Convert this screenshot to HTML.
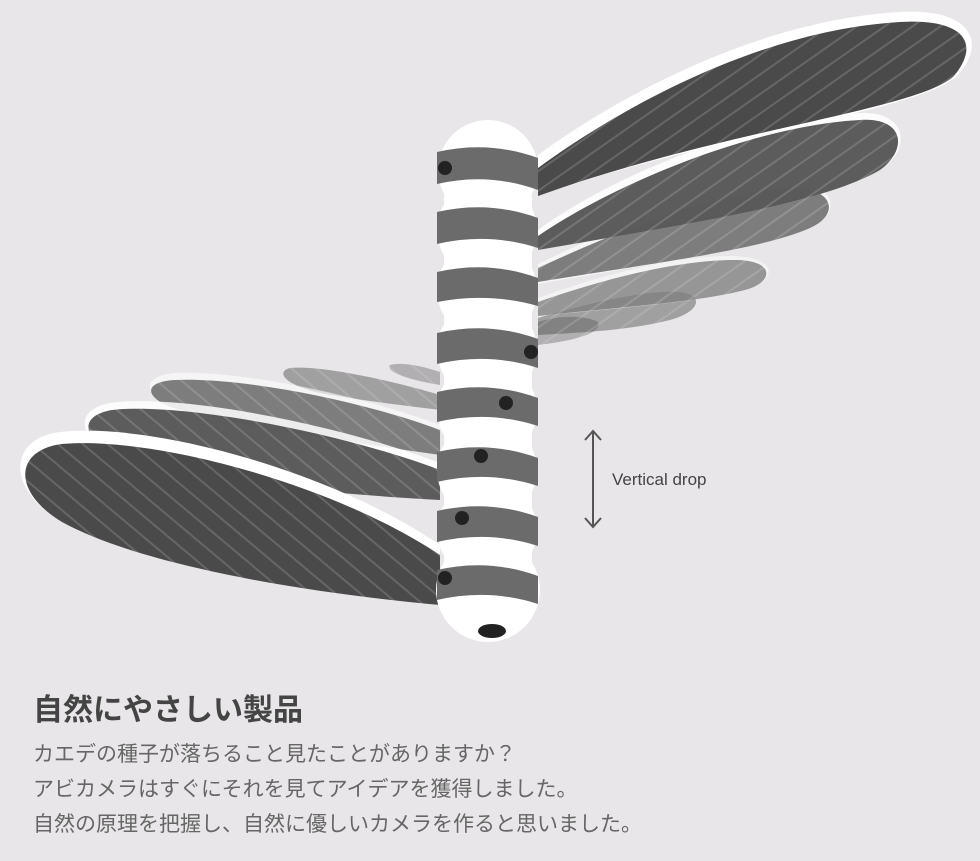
<!DOCTYPE html>
<html><head><meta charset="utf-8"><style>
body{margin:0;width:980px;height:861px;background:#e8e6e8;overflow:hidden;font-family:"Liberation Sans","Noto Sans CJK JP",sans-serif;position:relative}
.t{position:absolute;left:33px;top:685px;font-size:30px;font-weight:bold;color:#444}
.p{position:absolute;left:33px;top:737px;font-size:21px;line-height:35px;color:#666}
</style></head><body>
<svg width="980" height="680" style="position:absolute;left:0;top:0">
<defs>
<pattern id="st" width="16" height="16" patternUnits="userSpaceOnUse" patternTransform="rotate(55)">
<rect width="16" height="16" fill="#4a4a4a"/><rect width="2" height="16" fill="#666"/></pattern>
<pattern id="st2" width="16" height="16" patternUnits="userSpaceOnUse" patternTransform="rotate(-50)">
<rect width="16" height="16" fill="#4a4a4a"/><rect width="2" height="16" fill="#666"/></pattern>
</defs>
<path d="M538,322 C560,315 585,315 598,322 C602,332 580,340 538,345Z" fill="url(#st)" opacity="0.35"/>
<path d="M538,318 C600,300 650,290 680,292 C705,295 700,312 670,320 C630,330 590,332 538,335Z" fill="url(#st)" opacity="0.45"/>
<path d="M538,298 C610,272 680,255 735,256 C778,258 778,280 746,290 C700,302 620,308 538,316Z" fill="#fff" opacity="0.5"/>
<path d="M538,302 C610,277 680,260 735,260 C775,260 775,282 745,290 C700,302 620,307 538,316Z" fill="url(#st)" opacity="0.55"/>
<path d="M538,264 C620,224 720,184 790,183 C838,183 842,214 810,228 C760,250 660,262 538,284Z" fill="#fff" opacity="0.6"/>
<path d="M538,268 C620,230 720,190 790,188 C835,187 840,215 810,228 C760,250 660,262 538,282Z" fill="url(#st)" opacity="0.7"/>
<path d="M538,230 C620,170 760,118 860,113 C908,111 912,150 880,170 C820,205 680,225 538,250Z" fill="#fff" opacity="0.85"/>
<path d="M538,236 C620,180 760,125 860,120 C905,117 908,150 880,170 C820,205 680,225 538,250Z" fill="url(#st)" opacity="0.9"/>
<path d="M538,155 C620,95 760,20 900,12 C965,8 990,38 958,75 C920,112 720,132 538,196Z" fill="#fff"/>
<path d="M538,168 C620,108 760,30 900,22 C962,18 982,42 954,76 C918,110 720,130 538,196Z" fill="url(#st)"/>
<path d="M440,372 C420,365 400,362 390,365 C385,372 410,380 440,385Z" fill="url(#st2)" opacity="0.35"/>
<path d="M440,395 C390,380 320,365 290,368 C275,372 285,385 320,393 C370,402 410,406 440,410Z" fill="url(#st2)" opacity="0.45"/>
<path d="M440,425 C360,395 240,370 175,373 C138,376 143,398 180,410 C260,430 370,445 440,455Z" fill="#fff" opacity="0.6"/>
<path d="M440,430 C360,400 240,377 175,380 C140,382 145,400 180,410 C260,430 370,445 440,455Z" fill="url(#st2)" opacity="0.7"/>
<path d="M440,463 C340,425 180,393 110,403 C72,410 78,440 120,455 C220,485 350,495 440,500Z" fill="#fff" opacity="0.85"/>
<path d="M440,470 C340,432 180,402 112,410 C77,416 82,440 120,455 C220,485 350,495 440,500Z" fill="url(#st2)" opacity="0.9"/>
<path d="M440,545 C330,470 150,422 60,432 C8,438 6,490 60,520 C150,570 330,595 440,605Z" fill="#fff"/>
<path d="M440,555 C330,482 150,436 62,444 C14,450 12,492 62,522 C150,570 330,595 440,605Z" fill="url(#st2)"/>
<g fill="#fff">
<rect x="444" y="160" width="88" height="440" rx="40"/>
<circle cx="488" cy="170" r="50"/><circle cx="487" cy="230" r="50"/><circle cx="487" cy="290" r="50"/>
<circle cx="487" cy="350" r="50"/><circle cx="487" cy="410" r="50"/><circle cx="487" cy="470" r="50"/>
<circle cx="487" cy="530" r="50"/><circle cx="488" cy="590" r="52"/>
</g>
<g fill="#6b6b6b">
<path d="M437 152 Q488 140 538 158 L538 190 Q488 172 437 184Z"/>
<path d="M437 212 Q488 200 538 218 L538 248 Q488 232 437 244Z"/>
<path d="M437 272 Q488 260 538 278 L538 306 Q488 292 437 302Z"/>
<path d="M437 333 Q488 321 538 339 L538 368 Q488 352 437 364Z"/>
<path d="M437 392 Q488 380 538 398 L538 426 Q488 410 437 422Z"/>
<path d="M437 452 Q488 440 538 458 L538 486 Q488 470 437 482Z"/>
<path d="M437 511 Q488 499 538 517 L538 546 Q488 530 437 542Z"/>
<path d="M437 570 Q488 558 538 576 L538 604 Q488 588 437 600Z"/>
</g>
<g fill="#222">
<circle cx="445" cy="168" r="7"/><circle cx="531" cy="352" r="7"/><circle cx="506" cy="403" r="7"/>
<circle cx="481" cy="456" r="7"/><circle cx="462" cy="518" r="7"/><circle cx="445" cy="578" r="7"/>
<ellipse cx="492" cy="631" rx="14" ry="7"/>
</g>
<g stroke="#555" stroke-width="2" fill="none">
<line x1="593" y1="432" x2="593" y2="526"/>
<polyline points="585,440 593,431 601,440"/><polyline points="585,518 593,527 601,518"/>
</g>
<text x="612" y="485" font-size="17" fill="#444" font-family="Liberation Sans,sans-serif">Vertical drop</text>
</svg>
<div class="t">自然にやさしい製品</div>
<div class="p">カエデの種子が落ちること見たことがありますか？<br>アビカメラはすぐにそれを見てアイデアを獲得しました。<br>自然の原理を把握し、自然に優しいカメラを作ると思いました。</div>
</body></html>
